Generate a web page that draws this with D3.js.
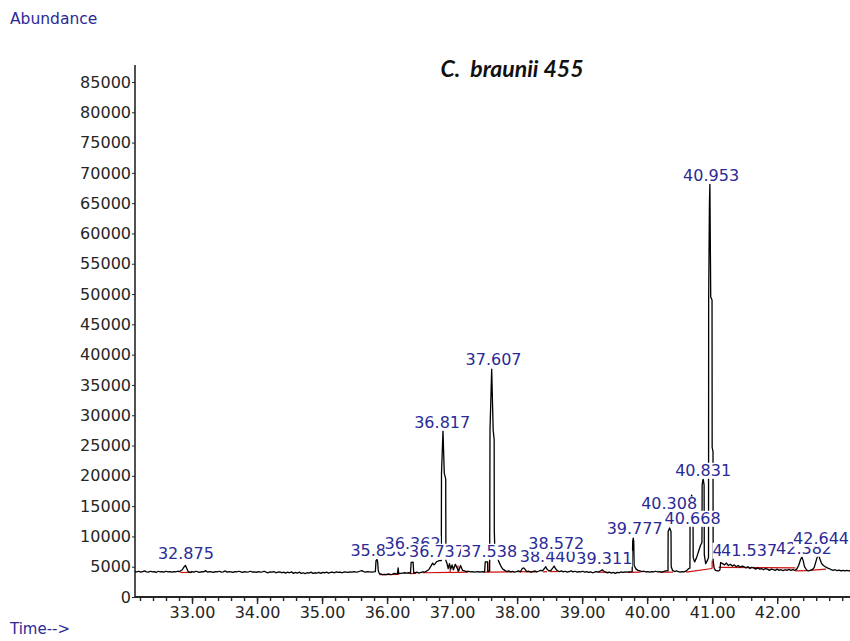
<!DOCTYPE html>
<html><head><meta charset="utf-8">
<script src="https://cdn.jsdelivr.net/npm/d3@7"></script>
<style>body{margin:0;background:#fff}</style>
</head><body>
<svg id="c" width="850" height="641"></svg>
<script>
// ---- data ----
const yTicks = [0,5000,10000,15000,20000,25000,30000,35000,40000,45000,50000,55000,60000,65000,70000,75000,80000,85000];
const xTicks = [33,34,35,36,37,38,39,40,41,42];
const minorStep = 0.2;

// retention time (min), abundance
const signal = [
[32.12,4200],[32.15,4150],[32.18,4250],[32.21,4100],[32.24,4200],[32.27,4300],[32.30,4150],[32.33,4100],[32.36,4250],[32.39,4150],
[32.42,4200],[32.45,4050],[32.48,4250],[32.51,4150],[32.54,4200],[32.57,4100],[32.60,4250],[32.63,4150],[32.66,4200],[32.69,4100],
[32.72,4200],[32.75,4150],[32.78,4250],[32.81,4200],[32.85,4500],[32.88,5000],[32.90,5200],[32.92,4700],[32.94,4200],[32.97,4050],
[33.00,4200],[33.03,4100],[33.06,4250],[33.09,4150],[33.12,4050],[33.15,4200],[33.18,4150],[33.21,4350],[33.24,4100],[33.27,4200],
[33.30,4150],[33.33,4050],[33.36,4200],[33.39,4150],[33.42,4250],[33.45,4100],[33.48,4150],[33.51,4300],[33.54,4100],[33.57,4200],
[33.60,4150],[33.63,4050],[33.66,4200],[33.69,4150],[33.72,4250],[33.75,4150],[33.78,4050],[33.81,4200],[33.84,4100],[33.87,4150],
[33.90,4250],[33.93,4100],[33.96,4150],[33.99,4050],[34.02,4200],[34.05,4100],[34.08,4150],[34.11,4250],[34.14,4100],[34.17,4000],
[34.20,4150],[34.23,4100],[34.26,4200],[34.29,4000],[34.32,4100],[34.35,4150],[34.38,4000],[34.41,4100],[34.44,3950],[34.47,4100],
[34.50,4000],[34.53,4150],[34.56,3900],[34.59,4050],[34.62,3950],[34.65,4100],[34.68,3900],[34.71,4000],[34.74,3850],[34.77,4000],
[34.80,3950],[34.83,4100],[34.86,3900],[34.89,4000],[34.92,3950],[34.95,4050],[34.98,3900],[35.01,4050],[35.04,4000],[35.07,4100],
[35.10,3950],[35.13,4050],[35.16,4100],[35.19,4000],[35.22,4150],[35.25,4050],[35.28,4100],[35.31,4000],[35.34,4150],[35.37,4100],
[35.40,4050],[35.43,4150],[35.46,4100],[35.49,4200],[35.52,4100],[35.55,4150],[35.58,4250],[35.61,4350],[35.64,4200],[35.67,4100],
[35.70,4200],[35.73,4150],[35.76,4100],[35.79,4150],[35.82,4200],[35.83,6000],[35.845,6200],[35.855,5800],[35.865,4300],[35.88,3900],
[35.90,3800],[35.93,3700],[35.96,3750],[35.99,3700],[36.02,3800],[36.05,3700],[36.08,3750],[36.11,3900],[36.14,3800],[36.16,3850],
[36.17,4800],[36.18,3850],[36.21,3900],[36.24,3950],[36.27,4000],[36.30,3950],[36.33,4000],[36.36,3950],[36.37,5700],[36.40,5750],
[36.41,4000],[36.43,4000],[36.46,4100],[36.49,3950],[36.52,4050],[36.55,4150],[36.58,4100],[36.61,4300],[36.64,4500],[36.67,5000],
[36.70,5600],[36.72,5300],[36.74,5500],[36.76,5800],[36.78,5900],[36.80,6000],[36.834,6000],[36.837,20400],[36.86,27400],[36.88,20400],
[36.902,19500],[36.905,6000],[36.92,5600],[36.94,4700],[36.96,5500],[36.98,4600],[37.00,5300],[37.02,4500],[37.05,5400],[37.08,4700],
[37.10,4300],[37.13,5200],[37.16,4400],[37.19,4300],[37.22,4200],[37.25,4250],[37.28,4150],[37.31,4200],[37.34,4100],[37.37,4150],
[37.40,4200],[37.43,4100],[37.46,4200],[37.50,4150],[37.51,5800],[37.545,5800],[37.55,4200],[37.578,4300],[37.583,27500],[37.609,37600],
[37.632,27500],[37.647,26000],[37.649,11000],[37.66,6600],[37.68,6800],[37.70,6400],[37.72,5800],[37.75,5100],[37.78,4600],[37.81,4400],
[37.84,4200],[37.87,4300],[37.90,4150],[37.93,4250],[37.96,4100],[37.99,4200],[38.02,4300],[38.05,4150],[38.08,4700],[38.10,4800],
[38.12,4600],[38.15,4200],[38.18,4250],[38.21,4100],[38.24,4200],[38.27,4300],[38.30,4150],[38.33,4250],[38.36,4400],[38.39,4300],
[38.42,4700],[38.44,5000],[38.46,4600],[38.49,4300],[38.52,4400],[38.55,4800],[38.57,5100],[38.59,4700],[38.62,4300],[38.65,4200],
[38.68,4300],[38.71,4150],[38.74,4250],[38.77,4100],[38.80,4200],[38.83,4300],[38.86,4150],[38.89,4250],[38.92,4100],[38.95,4200],
[38.98,4150],[39.01,4250],[39.04,4100],[39.07,4200],[39.10,4050],[39.13,4150],[39.16,4000],[39.19,4100],[39.22,4200],[39.25,4100],
[39.28,4300],[39.31,4500],[39.33,4300],[39.36,4100],[39.39,4000],[39.42,4100],[39.45,3950],[39.48,4050],[39.51,3900],[39.54,4050],
[39.57,4000],[39.60,4150],[39.63,4050],[39.66,4150],[39.69,4100],[39.72,4150],[39.77,4200],[39.778,9200],[39.786,9700],[39.794,9200],
[39.80,5200],[39.83,4600],[39.86,4400],[39.89,4300],[39.92,4200],[39.95,4250],[39.98,4150],[40.01,4200],[40.04,4100],[40.07,4200],
[40.10,4150],[40.13,4250],[40.16,4150],[40.19,4200],[40.22,4100],[40.25,4200],[40.28,4300],[40.321,4300],[40.323,10800],[40.346,11400],
[40.367,10800],[40.370,5000],[40.39,4400],[40.42,4200],[40.45,4300],[40.48,4200],[40.51,4100],[40.54,4200],[40.57,4150],[40.60,4300],
[40.63,4600],[40.658,4800],[40.661,15800],[40.684,16800],[40.705,15800],[40.708,6500],[40.73,5800],[40.76,6500],[40.79,7500],[40.82,8500],
[40.843,9000],[40.846,18500],[40.861,19500],[40.876,18500],[40.879,7000],[40.90,5500],[40.925,6000],[40.944,6500],[40.946,49000],[40.958,65000],
[40.965,68200],[40.978,49500],[40.998,49000],[41.0,24700],[41.013,24000],[41.015,6000],[41.03,4800],[41.05,4400],[41.08,4300],[41.10,4300],
[41.12,4500],[41.13,5700],[41.16,5500],[41.19,5300],[41.22,5600],[41.25,5200],[41.28,5400],[41.31,5100],[41.34,5300],[41.37,5000],
[41.40,5200],[41.43,4900],[41.46,5100],[41.49,5000],[41.52,4800],[41.55,5000],[41.58,4700],[41.61,4900],[41.64,4800],[41.67,4600],
[41.70,4800],[41.73,4600],[41.76,4700],[41.79,4500],[41.82,4700],[41.85,4600],[41.88,4400],[41.91,4600],[41.94,4500],[41.97,4400],
[42.00,4600],[42.03,4400],[42.06,4500],[42.09,4350],[42.12,4500],[42.15,4400],[42.18,4550],[42.21,4400],[42.24,4500],[42.27,4400],
[42.30,4600],[42.33,5200],[42.36,6200],[42.38,6600],[42.40,6000],[42.42,5000],[42.45,4500],[42.48,4300],[42.51,4400],[42.54,4500],
[42.57,4900],[42.60,6000],[42.62,6700],[42.64,6800],[42.66,6200],[42.68,5600],[42.71,5200],[42.74,5000],[42.77,4800],[42.80,4700],
[42.83,4500],[42.86,4400],[42.89,4500],[42.92,4350],[42.95,4450],[42.98,4300],[43.01,4400],[43.04,4300],[43.07,4400],[43.10,4300],[43.13,4350]
];

// integration baselines: [t1, a1, t2, a2]
const integrationBaselines = [
[32.82,4050,33.00,4050],[35.88,3700,36.18,3750],[36.35,3850,36.45,3900],[36.55,4000,36.97,4050],[36.97,4050,37.09,4050],
[37.09,4050,37.25,4100],[36.97,4050,36.97,5000],[37.09,4050,37.09,5200],[37.48,4100,37.55,4100],[37.55,4100,37.55,5800],
[37.55,4100,37.95,4150],[38.00,4200,38.30,4150],[38.40,4150,38.46,4200],[38.50,4200,38.62,4200],[39.25,4100,39.42,4050],
[39.70,4050,39.90,4100],[40.20,4100,40.40,4100],[40.60,4100,41.0,4700],[41.0,4700,41.0,6000],[41.10,4900,42.28,4800],
[42.28,4300,42.47,4350],[42.50,4400,42.75,4600]
];

// peak labels: [text, retention time, label height (abundance)]
const peakLabels = [
["32.875",32.875,7260],["35.836",35.836,7755],["36.362",36.362,8900],["36.737",36.737,7590],["36.817",36.817,28900],
["37.538",37.538,7590],["37.607",37.607,39300],["38.440",38.440,6765],["38.572",38.572,8900],["39.311",39.311,6435],
["39.777",39.777,11385],["40.308",40.308,15400],["40.668",40.668,13035],["40.831",40.831,20955],["40.953",40.953,69630],
["41.404",41.404,7755],["41.537",41.537,7755],["42.382",42.382,8085],["42.644",42.644,9735]
];

// ---- drawing ----
const svg = d3.select("#c");
const x = d3.scaleLinear().domain([32.123, 43.12]).range([135, 850]);
const y = d3.scaleLinear().domain([0, 85000]).range([597, 82]);
const ink = "#262626", blue = "#2a2a96";

svg.append("rect").attr("width",850).attr("height",641).attr("fill","#fff");

// y axis
const yAx = svg.append("g").attr("transform","translate(135,0)")
  .call(d3.axisLeft(y).tickValues(yTicks).tickSize(3).tickPadding(1).tickFormat(d3.format("d")));
yAx.select(".domain").remove();
yAx.selectAll("line").attr("stroke",ink);
yAx.selectAll("text").attr("font-family","DejaVu Sans").attr("font-size",16).attr("fill",ink);
svg.append("line").attr("x1",135).attr("x2",135).attr("y1",65).attr("y2",597).attr("stroke",ink).attr("stroke-width",1.6);

// x axis
const minor = d3.range(32.2, 43.11, minorStep).map(v=>+v.toFixed(1));
const xMin = svg.append("g").attr("transform","translate(0,597)")
  .call(d3.axisBottom(x).tickValues(minor).tickSize(4).tickFormat(""));
xMin.select(".domain").remove();
xMin.selectAll("line").attr("stroke",ink).attr("stroke-width",1.4);
const xAx = svg.append("g").attr("transform","translate(0,597)")
  .call(d3.axisBottom(x).tickValues(xTicks).tickSize(7).tickPadding(3).tickFormat(d3.format(".2f")));
xAx.select(".domain").remove();
xAx.selectAll("line").attr("stroke",ink).attr("stroke-width",1.4);
xAx.selectAll("text").attr("font-family","DejaVu Sans").attr("font-size",16).attr("fill",ink);
svg.append("line").attr("x1",135).attr("x2",850).attr("y1",597).attr("y2",597).attr("stroke",ink).attr("stroke-width",1.8);

// integration baselines
svg.append("g").selectAll("line").data(integrationBaselines).join("line")
  .attr("x1",d=>x(d[0])).attr("y1",d=>y(d[1])).attr("x2",d=>x(d[2])).attr("y2",d=>y(d[3]))
  .attr("stroke","#cc1010").attr("stroke-width",1.2);

// chromatogram
svg.append("path").datum(signal)
  .attr("d", d3.line().x(d=>x(d[0])).y(d=>y(d[1])))
  .attr("fill","none").attr("stroke","#000").attr("stroke-width",1.3).attr("stroke-linejoin","round");

// peak labels with white boxes, drawn left to right
const lg = svg.append("g");
peakLabels.forEach(p=>{
  const g = lg.append("g");
  const r = g.append("rect").attr("fill","#fff");
  const t = g.append("text").text(p[0])
    .attr("x", x(p[1])+2).attr("y", y(p[2])).attr("dy","0.36em")
    .attr("text-anchor","middle").attr("font-family","DejaVu Sans").attr("font-size",16).attr("fill",blue);
  const b = t.node().getBBox();
  r.attr("x",b.x).attr("y",b.y+2).attr("width",b.width).attr("height",b.height-3);
});

// texts
svg.append("text").text("Abundance").attr("x",10).attr("y",24)
  .attr("font-family","DejaVu Sans").attr("font-size",15.5).attr("fill",blue);
svg.append("text").text("Time-->").attr("x",10).attr("y",634)
  .attr("font-family","DejaVu Sans").attr("font-size",15).attr("fill",blue);
svg.append("text").text("C.  braunii 455").attr("x",512).attr("y",77)
  .attr("text-anchor","middle").style("white-space","pre")
  .attr("font-family","Lato").attr("font-weight","bold").attr("font-style","italic").attr("font-size",23).attr("fill","#111");
</script>
</body></html>
